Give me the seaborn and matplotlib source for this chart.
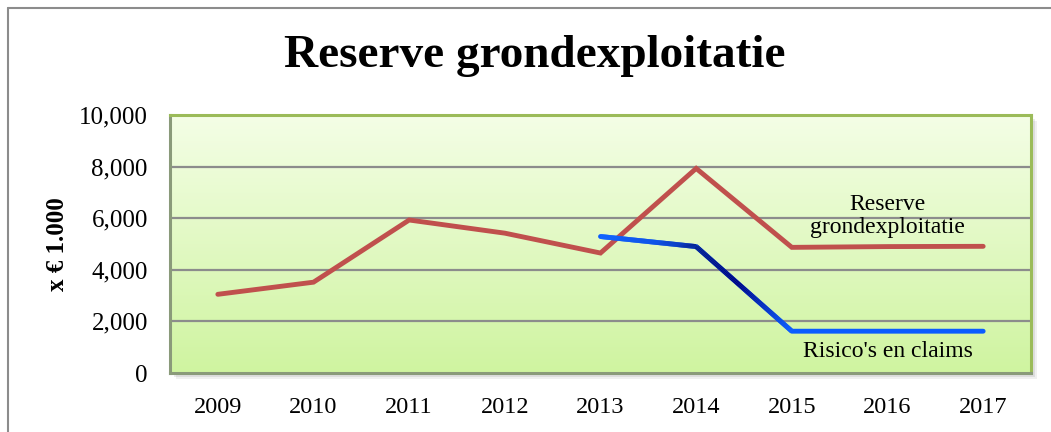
import numpy as np
import pandas as pd
import matplotlib
matplotlib.use("Agg")
import matplotlib.pyplot as plt
import seaborn as sns
from matplotlib.collections import LineCollection
from matplotlib.colors import LinearSegmentedColormap
import matplotlib.patches as mpatches

years = ["2009", "2010", "2011", "2012", "2013", "2014", "2015", "2016", "2017"]
reserve = [3050, 3520, 5930, 5420, 4650, 7930, 4870, 4900, 4910]
risk_years = ["2013", "2014", "2015", "2016", "2017"]
risico = [5290, 4900, 1620, 1620, 1620]
yticks = [0, 2000, 4000, 6000, 8000, 10000]

sns.set_theme(style="white")
plt.rcParams['font.family'] = ['Liberation Serif', 'DejaVu Serif']
plt.rcParams['text.color'] = 'black'
plt.rcParams['axes.labelcolor'] = 'black'
plt.rcParams['xtick.color'] = 'black'
plt.rcParams['ytick.color'] = 'black'

W, H = 1051, 432
fig = plt.figure(figsize=(W / 100, H / 100), dpi=100)
fig.patch.set_facecolor("white")

# outer chart frame (left and top edges visible)
fig.add_artist(plt.Line2D([8 / W, 8 / W], [0, 1 - 8 / H], transform=fig.transFigure,
                          color="#8c8c8c", lw=1.5))
fig.add_artist(plt.Line2D([8 / W, 1], [1 - 8 / H, 1 - 8 / H], transform=fig.transFigure,
                          color="#8c8c8c", lw=1.5))

L, R, T, B = 170, 1031, 115, 373
ax_pos = [L / W, 1 - B / H, (R - L) / W, (B - T) / H]

# shadow
for i, a in enumerate([0.10, 0.08, 0.06]):
    off = (i + 1) * 2
    fig.add_artist(mpatches.Rectangle((ax_pos[0] + off / W, ax_pos[1] - off / H),
                                      ax_pos[2], ax_pos[3], transform=fig.transFigure,
                                      facecolor="black", alpha=a, edgecolor="none", zorder=0))

ax = fig.add_axes(ax_pos)
ax.set_zorder(1)

xi = {y: i for i, y in enumerate(years)}
df_res = pd.DataFrame({"x": [xi[y] for y in years], "v": reserve})
df_risk = pd.DataFrame({"x": [xi[y] for y in risk_years], "v": risico})

# background gradient
grad = np.linspace(0, 1, 256).reshape(-1, 1)
bg = LinearSegmentedColormap.from_list("bg", ["#f4fee6", "#cff4a0"])
ax.imshow(grad, aspect="auto", cmap=bg, extent=[-0.5, 8.5, 0, 10000],
          origin="upper", zorder=0)

for yv in yticks[1:-1]:
    ax.axhline(yv, color="#8c8c8c", lw=1.6, zorder=1)

sns.lineplot(data=df_res, x="x", y="v", ax=ax, color="#c0504d", lw=3.5,
             zorder=3, solid_capstyle="round", solid_joinstyle="miter")

# blue series with gradient shading
sns.lineplot(data=df_risk, x="x", y="v", ax=ax, color="#0a5cff", lw=3.5,
             zorder=4, solid_capstyle="round")
xs = np.linspace(df_risk["x"].iloc[0], df_risk["x"].iloc[2], 200)
ys = np.interp(xs, df_risk["x"], df_risk["v"])
pts = np.array([xs, ys]).T.reshape(-1, 1, 2)
segs = np.concatenate([pts[:-1], pts[1:]], axis=1)
bcm = LinearSegmentedColormap.from_list(
    "bl", [(0, "#1566ff"), (0.3, "#1050e0"), (0.5, "#06208a"), (0.72, "#00007a"), (1.0, "#1060ff")])
lc = LineCollection(segs, cmap=bcm, linewidths=3.5, zorder=5, capstyle="butt")
lc.set_array((xs[:-1] - xs[0]) / (xs[-1] - xs[0]))
ax.add_collection(lc)

ax.set_xlim(-0.5, 8.5)
ax.set_ylim(0, 10000)
ax.set_xticks(range(len(years)))
ax.set_xticklabels(years, fontsize=17.5)
ax.set_yticks(yticks)
ax.set_yticklabels([f"{v:,}" for v in yticks], fontsize=18)
ax.tick_params(axis="x", length=0, pad=17)
ax.tick_params(axis="y", length=0, pad=16)
ax.set_xlabel("")
ax.set_ylabel("x € 1.000", fontsize=18, fontweight="bold", labelpad=7)

for side in ["top", "right"]:
    ax.spines[side].set_color("#9bbb59")
    ax.spines[side].set_linewidth(2.2)
for side in ["left", "bottom"]:
    ax.spines[side].set_color("#8a9a7a")
    ax.spines[side].set_linewidth(2.2)

ax.text(7.0, 6080, "Reserve\ngrondexploitatie", fontsize=17, ha="center", va="center",
        linespacing=1.1, zorder=6)
ax.text(7.0, 820, "Risico's en claims", fontsize=17, ha="center", va="center", zorder=6)

fig.text(535 / W, 1 - 56 / H, "Reserve grondexploitatie", fontsize=34, fontweight="bold",
         ha="center", va="center")

fig.savefig("out.png", dpi=100)
